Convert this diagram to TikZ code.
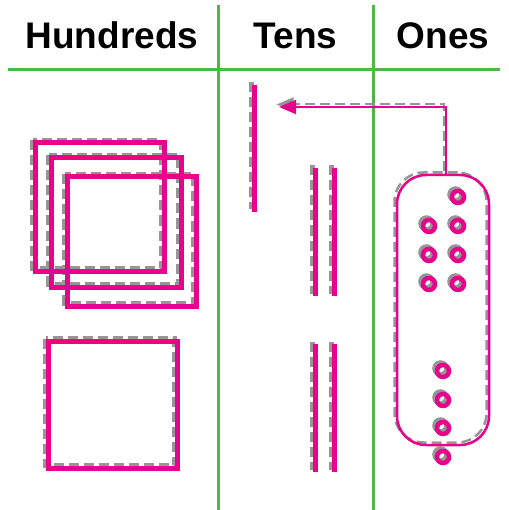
\documentclass[tikz,border=0pt]{standalone}
\usepackage{fontspec}
\setsansfont{Liberation Sans}
\usetikzlibrary{arrows.meta}

\definecolor{chartgreen}{RGB}{77,184,72}
\definecolor{blockpink}{RGB}{233,0,139}
\definecolor{ghostgray}{RGB}{150,150,150}

\tikzset{
  heading/.style={font=\sffamily\bfseries\fontsize{37}{37}\selectfont, anchor=base, inner sep=0pt},
  rule/.style={draw=chartgreen, line width=3pt},
  ghost/.style={color=ghostgray, dash pattern=on 10pt off 5pt},
  flat/.style={line width=5pt},
  rod/.style={line width=5pt},
  bead/.style={line width=4.5pt, solid},
  onesframe/.style={draw, rounded corners=29pt, line width=2.5pt, minimum width=92pt, minimum height=270pt, inner sep=0pt},
  move/.style={line width=2pt, -{Triangle[length=17pt,width=14pt]}}
}

% all the blocks, drawn once as gray ghost and once in pink
\newcommand{\placeblocks}{%
  % hundreds
  \draw[flat] (35,143) rectangle (164,271);
  \draw[flat] (51,158) rectangle (181,287);
  \draw[flat] (67,177) rectangle (196,306);
  \draw[flat] (48,341) rectangle (177,468);
  % tens
  \draw[rod] (254,85) -- (254,212);
  \draw[rod] (315,168) -- (315,296);
  \draw[rod] (334,168) -- (334,296);
  \draw[rod] (315,344) -- (315,472);
  \draw[rod] (334,344) -- (334,472);
  % ones
  \node[onesframe] (onesbox) at (443,310) {};
  \draw[bead] (458,197) circle[radius=6pt];
  \foreach \y in {226,255,284} {
    \draw[bead] (429,\y) circle[radius=6pt];
    \draw[bead] (458,\y) circle[radius=6pt];
  }
  \foreach \y in {371,400,428,457}
    \draw[bead] (443,\y) circle[radius=6pt];
  % regroup ten ones into a ten
  \coordinate (tensgap) at (279,107);
  \draw[move] ([xshift=3pt]onesbox.north) |- (tensgap);
}

\begin{document}
\begin{tikzpicture}[x=1pt, y=-1pt]
  \useasboundingbox (0,0) rectangle (508,510);

  % place value chart
  \node[heading] (hundreds) at (112,48.3) {Hundreds};
  \node[heading] (tens) at (295.5,48.3) {Tens};
  \node[heading] (ones) at (443,48.3) {Ones};
  \draw[rule] (8,69.3) -- (500,69.3);
  \draw[rule] (218.3,5) -- (218.3,510);
  \draw[rule] (373.3,5) -- (373.3,510);

  \begin{scope}[ghost, xshift=-2.5pt, yshift=2.5pt]
    \placeblocks
  \end{scope}
  \begin{scope}[color=blockpink]
    \placeblocks
  \end{scope}
\end{tikzpicture}
\end{document}
